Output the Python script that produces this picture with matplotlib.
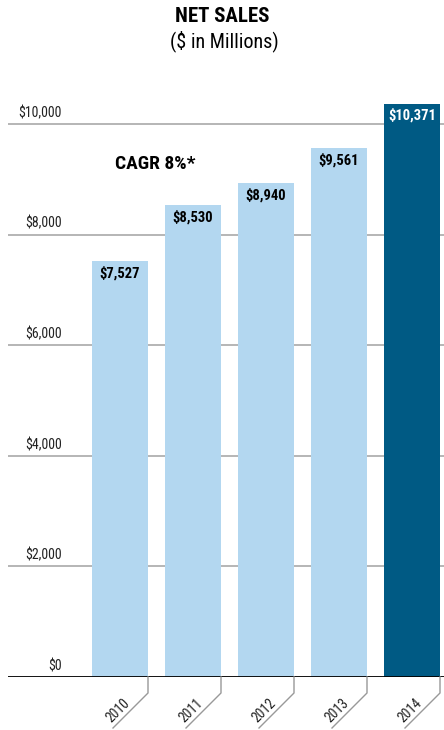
import matplotlib
matplotlib.use('Agg')
import matplotlib.pyplot as plt
import matplotlib.transforms as mtransforms
from matplotlib.lines import Line2D

plt.rcParams['font.family'] = ['Roboto Condensed', 'DejaVu Sans']

# Data
years = ['2010', '2011', '2012', '2013', '2014']
sales = [7527, 8530, 8940, 9561, 10371]
labels = ['$7,527', '$8,530', '$8,940', '$9,561', '$10,371']
yticks = [0, 2000, 4000, 6000, 8000, 10000]
ytick_labels = ['$0', '$2,000', '$4,000', '$6,000', '$8,000', '$10,000']

light = '#b3d7f0'
dark = '#005a84'
colors = [light, light, light, light, dark]

W, H = 444, 730
fig = plt.figure(figsize=(W / 100, H / 100), dpi=100)
ax = fig.add_axes([8 / W, 53 / H, 436 / W, 595 / H])

x = list(range(len(years)))
bw = 56 / 73
ax.bar(x, sales, width=bw, color=colors, zorder=2)
ax.set_xlim(-112 / 73, 324 / 73)
ax.set_ylim(0, 10760)

# grid lines
for v in yticks[1:]:
    ax.axhline(v, color='#b0b0b0', lw=1.3, zorder=1)
ax.axhline(0, color='black', lw=1.3, zorder=3)

for s in ax.spines.values():
    s.set_visible(False)
ax.set_xticks([])
ax.set_yticks([])

# y tick labels above gridlines
ylab_tr = mtransforms.offset_copy(
    mtransforms.blended_transform_factory(ax.transAxes, ax.transData),
    fig=fig, x=0, y=4, units='dots')
for v, t in zip(yticks, ytick_labels):
    ax.text(54 / 436, v, t, transform=ylab_tr, ha='right', va='bottom',
            fontsize=10, color='#222222')

# bar value labels
lab_tr = mtransforms.offset_copy(ax.transData, fig=fig, x=0, y=-5, units='dots')
for i, (v, t) in enumerate(zip(sales, labels)):
    ax.text(i, v, t, transform=lab_tr, ha='center', va='top', fontsize=10.5,
            fontweight='bold', color='white' if colors[i] == dark else 'black')

ax.text(0.48, 9280, 'CAGR 8%*', ha='center', va='center', fontsize=14,
        fontweight='bold', color='black')

# year labels with leader lines
fig.canvas.draw()
for i, yr in enumerate(years):
    x0, y0 = ax.transData.transform((i + bw / 2, 0))
    line = Line2D([x0, x0, x0 - 35], [y0, y0 - 16, y0 - 51],
                  transform=mtransforms.IdentityTransform(),
                  color='#999999', lw=1.0)
    fig.add_artist(line)
    fig.text(x0 - 30, y0 - 34, yr, transform=mtransforms.IdentityTransform(),
             rotation=45, rotation_mode='anchor', ha='center', va='center',
             fontsize=10, color='#222222')

fig.text(0.5, 1 - 16 / H, 'NET SALES', ha='center', va='center',
         fontsize=15, fontweight='bold')
fig.text(0.505, 1 - 41 / H, '($ in Millions)', ha='center', va='center',
         fontsize=14.5)

fig.savefig('out.png', dpi=100)
